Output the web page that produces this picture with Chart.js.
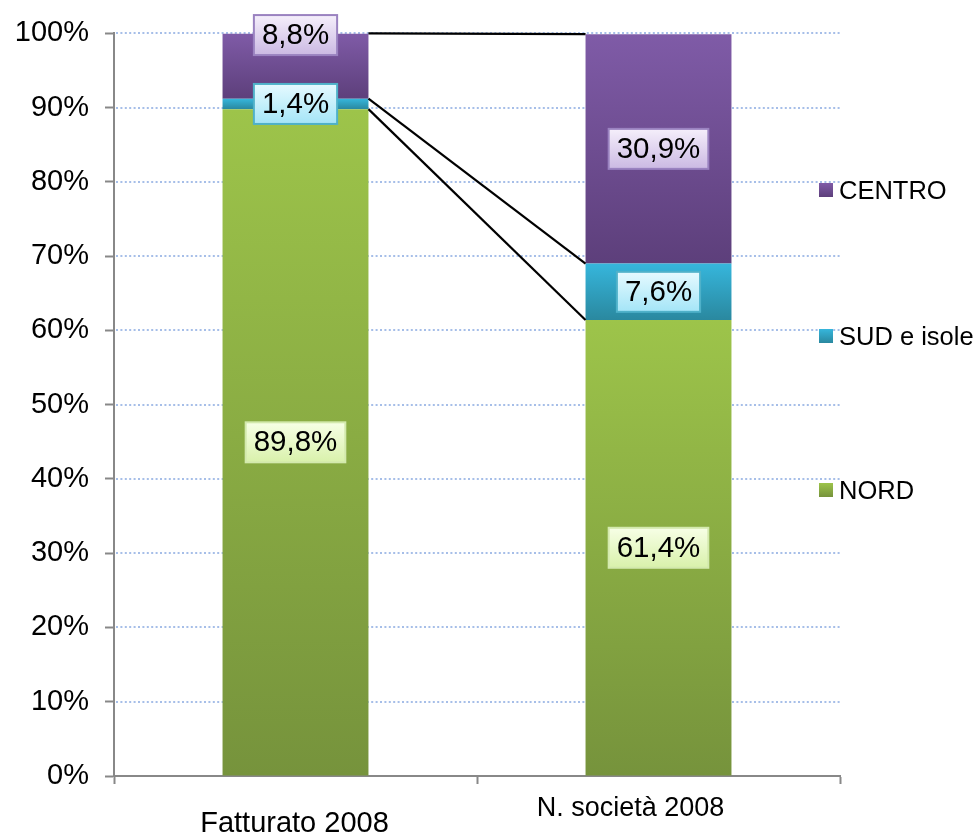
<!DOCTYPE html>
<html>
<head>
<meta charset="utf-8">
<script src="https://cdn.jsdelivr.net/npm/chart.js@4.4.1/dist/chart.umd.min.js"></script>
<style>
  html, body { margin: 0; padding: 0; background: #fff; }
</style>
</head>
<body>
<canvas id="regionChart" width="977" height="834"></canvas>
<script>
const categories = ['Fatturato 2008', 'N. società 2008'];
const seriesNames = ['NORD', 'SUD e isole', 'CENTRO'];
const nordValues = [89.8, 61.4];
const sudValues = [1.4, 7.6];
const centroValues = [8.8, 30.9];
const yTickValues = [0, 10, 20, 30, 40, 50, 60, 70, 80, 90, 100];

const FONT = "'Liberation Sans', Arial, sans-serif";

// top / bottom colour of each segment gradient
const barColors = [
    ['#9dc44a', '#76933c'],
    ['#36b6dc', '#2a889f'],
    ['#7f5ba7', '#5d3f7b'],
];
const boxStyles = [
    { fill: ['#f7ffe6', '#d9f1ab'], border: '#d3e9ad' },
    { fill: ['#e6faff', '#a4e5f7'], border: '#4fb1c9' },
    { fill: ['#f5effb', '#cbb9e3'], border: '#9a82c0' },
];

function fmt(v) {
    return v.toFixed(1).replace('.', ',') + '%';
}

function segmentGradient(c, colors) {
    const chart = c.chart;
    const y = chart.scales.y;
    if (c.type !== 'data' || !chart.chartArea || !y) return colors[1];
    let base = 0;
    for (let d = 0; d < c.datasetIndex; d++) base += chart.data.datasets[d].data[c.dataIndex];
    const v = chart.data.datasets[c.datasetIndex].data[c.dataIndex];
    const y0 = y.getPixelForValue(base + v);
    const y1 = y.getPixelForValue(base);
    if (!isFinite(y0) || !isFinite(y1) || y0 === y1) return colors[1];
    const g = chart.ctx.createLinearGradient(0, y0, 0, y1);
    g.addColorStop(0, colors[0]);
    g.addColorStop(1, colors[1]);
    return g;
}

// dotted horizontal grid behind the bars
const dottedGrid = {
    id: 'dottedGrid',
    beforeDatasetsDraw(chart) {
        const { ctx, chartArea, scales } = chart;
        ctx.save();
        ctx.strokeStyle = '#a6bee8';
        ctx.lineWidth = 2;
        ctx.setLineDash([2, 2.4]);
        scales.y.ticks.forEach((t) => {
            if (t.value === 0) return;
            const py = Math.round(scales.y.getPixelForValue(t.value));
            ctx.beginPath();
            ctx.moveTo(chartArea.left + 2, py);
            ctx.lineTo(chartArea.right, py);
            ctx.stroke();
        });
        ctx.restore();
    },
};

// series lines + boxed value labels
const seriesLinesAndLabels = {
    id: 'seriesLinesAndLabels',
    afterDatasetsDraw(chart) {
        const { ctx } = chart;
        ctx.save();
        ctx.strokeStyle = '#000';
        ctx.lineWidth = 2.2;
        chart.data.datasets.forEach((ds, di) => {
            const bars = chart.getDatasetMeta(di).data;
            const a = bars[0], b = bars[1];
            ctx.beginPath();
            ctx.moveTo(a.x + a.width / 2, a.y);
            ctx.lineTo(b.x - b.width / 2, b.y);
            ctx.stroke();
        });

        const shifts = { '2-0': -31 };
        ctx.font = '29.5px ' + FONT;
        ctx.textAlign = 'center';
        ctx.textBaseline = 'middle';
        chart.data.datasets.forEach((ds, di) => {
            const st = boxStyles[di];
            chart.getDatasetMeta(di).data.forEach((bar, i) => {
                const text = fmt(ds.data[i]);
                const cx = bar.x;
                const cy = (bar.y + bar.base) / 2 + (shifts[di + '-' + i] || 0);
                const w = ctx.measureText(text).width + 16;
                const h = 40;
                const g = ctx.createLinearGradient(0, cy - h / 2, 0, cy + h / 2);
                g.addColorStop(0, st.fill[0]);
                g.addColorStop(1, st.fill[1]);
                ctx.fillStyle = g;
                ctx.fillRect(cx - w / 2, cy - h / 2, w, h);
                ctx.strokeStyle = st.border;
                ctx.lineWidth = 2;
                ctx.strokeRect(cx - w / 2, cy - h / 2, w, h);
                ctx.fillStyle = '#000';
                ctx.fillText(text, cx, cy + 1);
            });
        });
        ctx.restore();
    },
};

// category labels under the axis
const categoryLabels = {
    id: 'categoryLabels',
    afterDraw(chart) {
        const { ctx, scales } = chart;
        const styles = [
            { size: 29, baseline: 832, dx: -1 },
            { size: 27, baseline: 816, dx: -28 },
        ];
        ctx.save();
        ctx.fillStyle = '#000';
        ctx.textAlign = 'center';
        ctx.textBaseline = 'alphabetic';
        chart.data.labels.forEach((lab, i) => {
            const s = styles[i];
            ctx.font = s.size + 'px ' + FONT;
            ctx.fillText(lab, scales.x.getPixelForValue(i) + s.dx, s.baseline);
        });
        ctx.restore();
    },
};

// legend on the right, reversed order
const sideLegend = {
    id: 'sideLegend',
    afterDraw(chart) {
        const { ctx } = chart;
        const rows = [490, 336, 190];
        ctx.save();
        ctx.font = '25.5px ' + FONT;
        ctx.textAlign = 'left';
        ctx.textBaseline = 'middle';
        chart.data.datasets.forEach((ds, di) => {
            const cy = rows[di];
            const g = ctx.createLinearGradient(0, cy - 7, 0, cy + 7);
            g.addColorStop(0, barColors[di][0]);
            g.addColorStop(1, barColors[di][1]);
            ctx.fillStyle = g;
            ctx.fillRect(819, cy - 7, 14, 14);
            ctx.fillStyle = '#000';
            ctx.fillText(ds.label, 839, cy + 2);
        });
        ctx.restore();
    },
};

const datasets = [nordValues, sudValues, centroValues].map((vals, di) => ({
    label: seriesNames[di],
    data: vals,
    backgroundColor: (c) => segmentGradient(c, barColors[di]),
    borderWidth: 0,
    categoryPercentage: 1,
    barPercentage: 0.402,
}));

new Chart(document.getElementById('regionChart').getContext('2d'), {
    type: 'bar',
    data: { labels: categories, datasets: datasets },
    plugins: [dottedGrid, seriesLinesAndLabels, categoryLabels, sideLegend],
    options: {
        responsive: false,
        animation: false,
        layout: { padding: { top: 29, right: 137, left: 0, bottom: 0 } },
        plugins: {
            legend: { display: false },
            tooltip: { enabled: false },
        },
        scales: {
            x: {
                stacked: true,
                afterFit: (s) => { s.height = 58; },
                ticks: { display: false },
                grid: {
                    drawOnChartArea: false,
                    tickLength: 8,
                    tickColor: '#888',
                    tickWidth: 2,
                },
                border: { color: '#888', width: 2 },
            },
            y: {
                stacked: true,
                min: 0,
                max: 100,
                afterFit: (s) => { s.width = 114; },
                afterBuildTicks: (s) => { s.ticks = yTickValues.map((v) => ({ value: v })); },
                ticks: {
                    padding: 16,
                    color: '#000',
                    font: { family: FONT, size: 29 },
                    callback: (v) => v + '%',
                },
                grid: {
                    drawOnChartArea: false,
                    tickLength: 9,
                    tickColor: '#888',
                    tickWidth: 2,
                },
                border: { color: '#888', width: 2 },
            },
        },
    },
});
</script>
</body>
</html>
